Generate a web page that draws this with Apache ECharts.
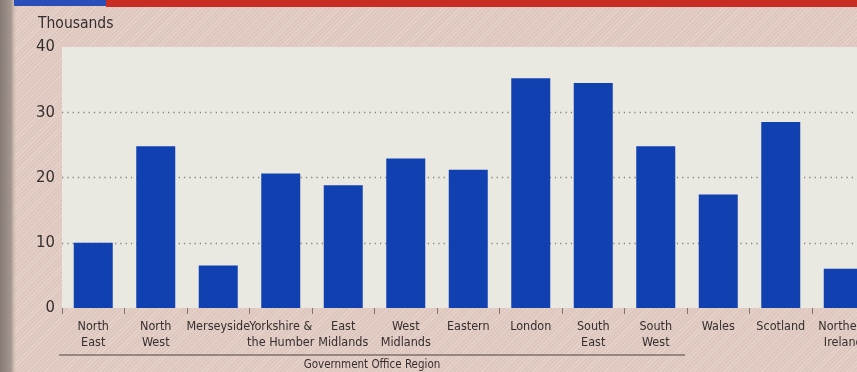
<!DOCTYPE html>
<html>
<head>
<meta charset="utf-8">
<script src="https://cdn.jsdelivr.net/npm/echarts@6/dist/echarts.min.js"></script>
<style>
  html, body { margin: 0; padding: 0; }
  body {
    width: 857px; height: 372px; overflow: hidden;
    background-color: #e4cdc4;
    background-image: repeating-linear-gradient(135deg, rgba(255,255,255,0.10) 0 1px, rgba(0,0,0,0.03) 1px 3px);
  }
  #chart { width: 857px; height: 372px; }
</style>
</head>
<body>
<div id="chart"></div>
<script>
// Regions (Government Office Region), values in thousands
const regions = [
  'North\nEast', 'North\nWest', 'Merseyside', 'Yorkshire &\nthe Humber', 'East\nMidlands',
  'West\nMidlands', 'Eastern', 'London', 'South\nEast', 'South\nWest',
  'Wales', 'Scotland', 'Northern\nIreland'
];
const values = [10.0, 24.8, 6.5, 20.6, 18.8, 22.9, 21.2, 35.2, 34.5, 24.8, 17.4, 28.5, 6.0];
const yTicks = [0, 10, 20, 30, 40];

const font = '"Liberation Sans Narrow", "DejaVu Sans Condensed", "Roboto Condensed", "Liberation Sans", sans-serif';
const ink = '#352f2f';

const chart = echarts.init(document.getElementById('chart'), null, { renderer: 'canvas' });

chart.setOption({
  animation: false,
  backgroundColor: 'transparent',
  grid: {
    left: 62, top: 47, width: 812.5, bottom: 64,
    outerBoundsMode: 'none',
    containLabel: false,
    show: true, backgroundColor: '#eae9e1', borderWidth: 0
  },
  xAxis: {
    type: 'category',
    data: regions,
    boundaryGap: true,
    axisLine: { show: false },
    axisTick: { show: true, length: 6, lineStyle: { color: '#7d7570', width: 1 } },
    axisLabel: {
      interval: 0, margin: 11, color: ink, hideOverlap: false,
      fontFamily: font, fontSize: 12.5, lineHeight: 16
    }
  },
  yAxis: {
    type: 'value',
    min: yTicks[0], max: yTicks[yTicks.length - 1], interval: 10,
    axisLine: { show: false },
    axisTick: { show: false },
    axisLabel: { margin: 7, color: ink, fontFamily: font, fontSize: 16.5 },
    splitLine: {
      show: true,
      lineStyle: {
        // no rule at 0 and 40; dotted rules at 10, 20, 30
        color: ['rgba(0,0,0,0)', '#8a8380', '#8a8380', '#8a8380', 'rgba(0,0,0,0)'],
        width: 1.3,
        type: [1.3, 4]
      }
    }
  },
  series: [{
    type: 'bar',
    data: values,
    barWidth: 39,
    itemStyle: { color: '#1140b0' },
    z: 3
  }],
  graphic: [
    // binding shadow on the left edge
    { type: 'rect', left: 0, top: 0, z: 0,
      shape: { width: 16, height: 372 },
      style: { fill: new echarts.graphic.LinearGradient(0, 0, 1, 0, [
        { offset: 0, color: '#857b72' }, { offset: 0.7, color: '#a59890' }, { offset: 1, color: 'rgba(200,180,172,0)' }
      ]) } },
    // coloured header band
    { type: 'rect', left: 14, top: 0, z: 1, shape: { width: 92, height: 6 }, style: { fill: '#2a4db8' } },
    { type: 'rect', left: 106, top: 0, z: 1, shape: { width: 760, height: 7 }, style: { fill: '#c92c22' } },
    // axis unit
    { type: 'text', left: 38, top: 16, z: 5,
      style: { text: 'Thousands', fill: ink, font: '15.5px ' + font } },
    // rule below the English regions and group title
    { type: 'line', z: 5, shape: { x1: 59, y1: 355, x2: 685, y2: 355 },
      style: { stroke: '#4a4242', lineWidth: 1 } },
    { type: 'text', z: 5, x: 372, y: 359,
      style: { text: 'Government Office Region', fill: ink, font: '11.5px ' + font, textAlign: 'center' } }
  ]
});
</script>
</body>
</html>
